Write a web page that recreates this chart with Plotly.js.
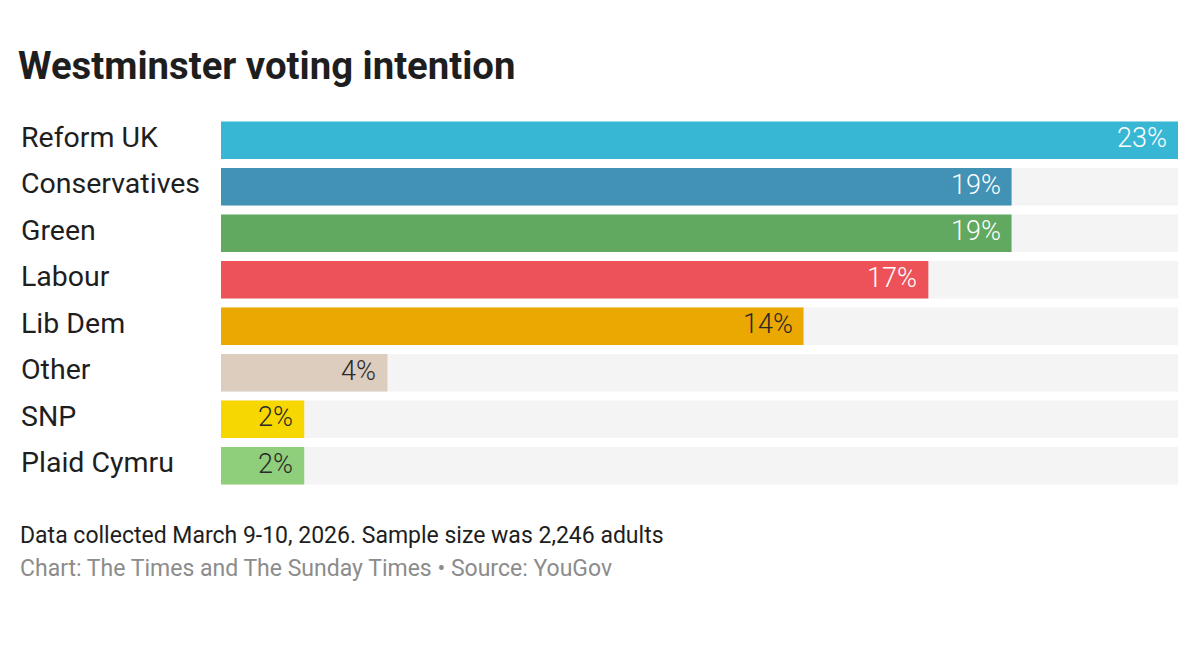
<!DOCTYPE html>
<html>
<head>
<meta charset="utf-8">
<script src="https://cdn.plot.ly/plotly-3.0.1.min.js"></script>
<style>
html,body{margin:0;padding:0;background:#fff;}
#chart{width:1200px;height:654px;}
</style>
</head>
<body>
<div id="chart"></div>
<script>
const parties = ["Reform UK","Conservatives","Green","Labour","Lib Dem","Other","SNP","Plaid Cymru"];
const values = [23,19,19,17,14,4,2,2];
const barColors = ["#38b7d5","#4192b4","#61a960","#ec5257","#eaa800","#dccdbf","#f7d700","#8fce7b"];
const labelColors = ["#ffffff","#ffffff","#ffffff","#ffffff","#2a2a2a","#2a2a2a","#2a2a2a","#2a2a2a"];
const titleText = "Westminster voting intention";
const noteText = "Data collected March 9-10, 2026. Sample size was 2,246 adults";
const sourceText = "Chart: The Times and The Sunday Times \u2022 Source: YouGov";

const maxVal = Math.max(...values);

const bgTrace = {
  type: "bar", orientation: "h",
  y: parties, x: parties.map(() => maxVal),
  marker: {color: "#f4f4f4"},
  hoverinfo: "skip", showlegend: false
};
const mainTrace = {
  type: "bar", orientation: "h",
  y: parties, x: values,
  marker: {color: barColors},
  hovertemplate: "%{y}: %{x}%<extra></extra>",
  showlegend: false
};

const annotations = [];
parties.forEach((p, i) => {
  annotations.push({
    x: 0, xref: "paper", xshift: -202, y: p, yref: "y", yshift: 3,
    text: p, showarrow: false, xanchor: "left", yanchor: "middle",
    font: {family: "Roboto", size: 28.5, color: "#1e1e1e"}
  });
  annotations.push({
    x: values[i], xref: "x", xshift: -9, y: p, yref: "y", yshift: 2,
    text: values[i] + "%", showarrow: false, xanchor: "right", yanchor: "middle",
    font: {family: "Roboto", size: 27, weight: 300, color: labelColors[i]}
  });
});
annotations.push({
  text: noteText, xref: "paper", yref: "paper",
  x: -203/957, y: -(536 - 489.5)/372, xanchor: "left", yanchor: "middle",
  showarrow: false, font: {family: "Roboto", size: 23, color: "#1e1e1e"}
});
annotations.push({
  text: sourceText, xref: "paper", yref: "paper",
  x: -203/957, y: -(569 - 489.5)/372, xanchor: "left", yanchor: "middle",
  showarrow: false, font: {family: "Roboto", size: 23, color: "#8c8c8c"}
});

const layout = {
  width: 1200, height: 654,
  paper_bgcolor: "#ffffff", plot_bgcolor: "#ffffff",
  margin: {l: 221, r: 22, t: 117, b: 165, pad: 0},
  barmode: "overlay", bargap: 0.19,
  title: {
    text: "<b>" + titleText + "</b>",
    x: 18/1200, xanchor: "left", xref: "container",
    y: 1 - 66/654, yanchor: "middle", yref: "container",
    font: {family: "Roboto", size: 38.3, color: "#1e1e1e"}
  },
  xaxis: {range: [0, maxVal], visible: false, fixedrange: true},
  yaxis: {autorange: "reversed", showticklabels: false, showgrid: false, zeroline: false, fixedrange: true},
  annotations: annotations
};

Plotly.newPlot("chart", [bgTrace, mainTrace], layout, {displayModeBar: false, staticPlot: true});
</script>
</body>
</html>
